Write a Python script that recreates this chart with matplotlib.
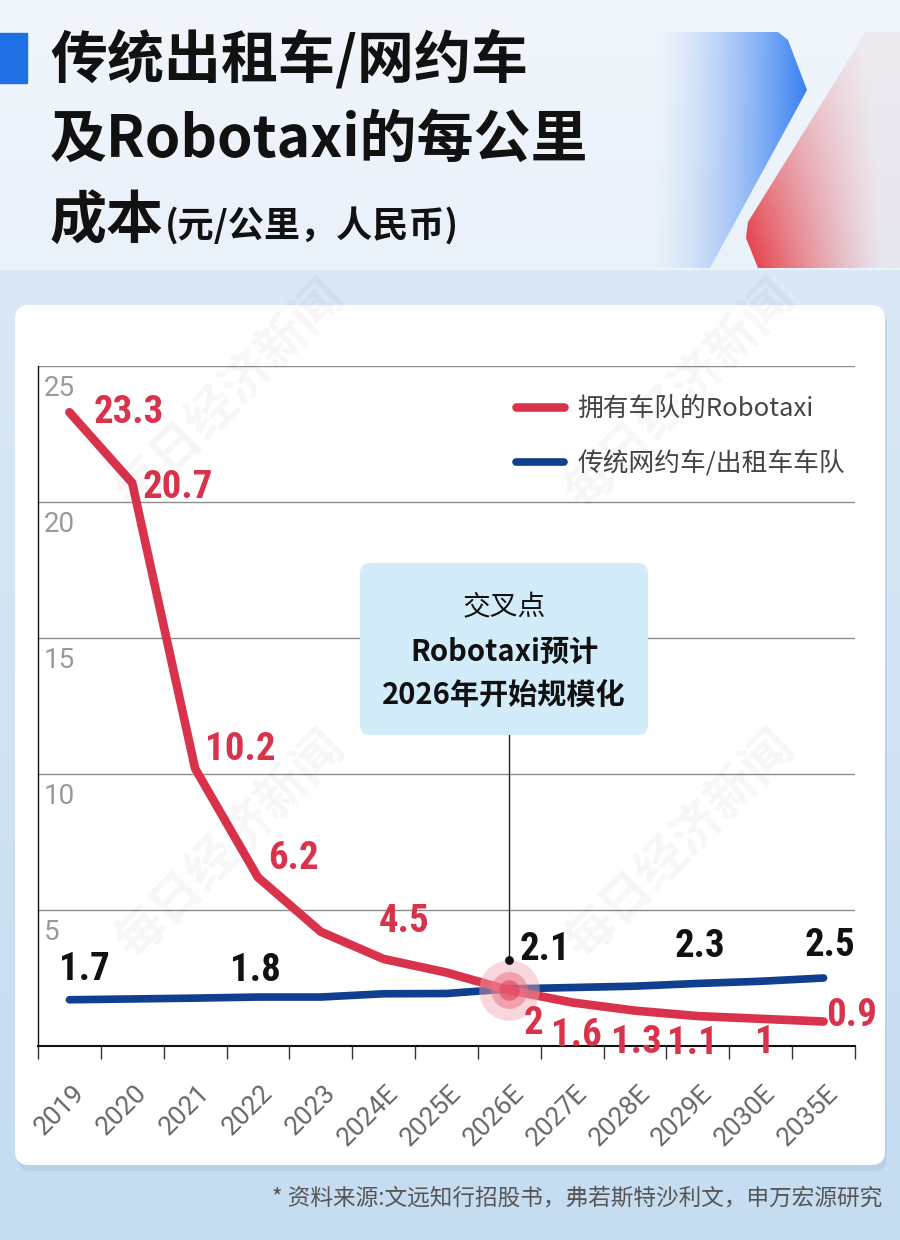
import numpy as np
import matplotlib
matplotlib.use('Agg')
import matplotlib.pyplot as plt
from matplotlib import font_manager
from matplotlib.patches import FancyBboxPatch, Polygon, Rectangle
from matplotlib.transforms import ScaledTranslation

# data
years = ['2019', '2020', '2021', '2022', '2023', '2024E', '2025E',
         '2026E', '2027E', '2028E', '2029E', '2030E', '2035E']
robotaxi = [23.3, 20.7, 10.2, 6.2, 4.2, 3.2, 2.7, 2.05, 1.6, 1.3, 1.1, 1.0, 0.9]
fleet = [1.7, 1.73, 1.76, 1.8, 1.8, 1.92, 1.93, 2.1, 2.15, 2.2, 2.3, 2.38, 2.5]
robotaxi_labels = ['23.3', '20.7', '10.2', '6.2', '', '4.5', '', '2', '1.6', '1.3', '1.1', '1', '0.9']
fleet_labels = ['1.7', '', '', '1.8', '', '', '', '2.1', '', '', '2.3', '', '2.5']
yticks = [5, 10, 15, 20, 25]

# label offsets in pixels (layout only)
robotaxi_off = [(59, 0), (46, -5), (45, 19), (35, 19), (0, 0), (20, 37), (0, 0),
                (24, -33), (4, -33), (1, -32), (-5, -27), (4, -24), (28, 6)]
fleet_off = [(15, 30), (0, 0), (0, 0), (-3, 27), (0, 0), (0, 0), (0, 0),
             (36, 39), (0, 0), (0, 0), (2, 37), (0, 0), (6, 33)]

RED = '#d9334c'
BLUE = '#0f3f8e'

plt.rcParams['font.family'] = ['Noto Sans CJK SC', 'DejaVu Sans']


def pick_number_font():
    fonts = font_manager.fontManager.ttflist
    names = {f.name for f in fonts}
    for n in ['Roboto Condensed', 'Liberation Sans Narrow', 'Open Sans Condensed',
              'Noto Sans Condensed', 'DejaVu Sans Condensed', 'Arial Narrow']:
        if n in names:
            return n, 'normal', 28
    for f in fonts:
        if f.stretch in ('condensed', 'semi-condensed', 'extra-condensed') and f.weight in (600, 700, 'bold'):
            return f.name, f.stretch, 28
    return 'Roboto', 'normal', 23


num_family, num_stretch, num_size = pick_number_font()

fig = plt.figure(figsize=(9, 12.4), dpi=100)

# background in pixel coordinates
bg = fig.add_axes([0, 0, 1, 1], zorder=-10)
bg.set_xlim(0, 900)
bg.set_ylim(1240, 0)
bg.axis('off')

top = np.array([0xf1, 0xf6, 0xfc]) / 255
head_bot = np.array([0xe9, 0xf1, 0xf9]) / 255
body_top = np.array([0xdb, 0xe8, 0xf5]) / 255
body_bot = np.array([0xc5, 0xdc, 0xf1]) / 255
rows = np.zeros((1240, 1, 3))
for y in range(1240):
    if y < 270:
        t = y / 270
        rows[y, 0] = top * (1 - t) + head_bot * t
    else:
        t = (y - 270) / 970
        rows[y, 0] = body_top * (1 - t) + body_bot * t
bg.imshow(rows, extent=(0, 900, 1240, 0), aspect='auto', zorder=0)

# decorative header shapes
blue_poly = Polygon([(650, 32), (778, 32), (788, 40), (807, 90), (710, 268), (650, 268)],
                    closed=True, facecolor='none', edgecolor='none')
bg.add_patch(blue_poly)
gx = np.linspace(0, 1, 200)
blue_img = np.zeros((1, 200, 4))
blue_img[0, :, 0] = 0x38 / 255
blue_img[0, :, 1] = 0x80 / 255
blue_img[0, :, 2] = 0xf2 / 255
blue_img[0, :, 3] = gx ** 1.5
im = bg.imshow(blue_img, extent=(650, 807, 268, 32), aspect='auto', zorder=1)
im.set_clip_path(blue_poly)

red_poly = Polygon([(866, 32), (900, 32), (900, 268), (758, 268), (746, 238), (748, 222)],
                   closed=True, facecolor='none', edgecolor='none')
bg.add_patch(red_poly)
xx, yy = np.meshgrid(np.linspace(0, 1, 160), np.linspace(0, 1, 60))
red_img = np.zeros((60, 160, 4))
red_img[..., 0] = 0xe6 / 255
red_img[..., 1] = 0x36 / 255
red_img[..., 2] = 0x40 / 255
red_img[..., 3] = np.clip((1 - xx) ** 1.3 * (0.35 + 0.65 * yy), 0.06, 1)
im2 = bg.imshow(red_img, extent=(746, 900, 268, 32), aspect='auto', zorder=1)
im2.set_clip_path(red_poly)

# title
bg.add_patch(Rectangle((0, 33), 27, 50, color='#1f6fe5', zorder=2))
bg.text(50, 60, '传统出租车/网约车', fontsize=41, fontweight='heavy', color='#111',
        va='center', ha='left', zorder=3)
bg.text(50, 140, '及Robotaxi的每公里', fontsize=41, fontweight='heavy', color='#111',
        va='center', ha='left', zorder=3)
t3 = bg.text(50, 238, '成本', fontsize=41, fontweight='heavy', color='#111',
             va='baseline', ha='left', zorder=3)
renderer = fig.canvas.get_renderer()
ext = t3.get_window_extent(renderer)
bg.text(ext.x1 + 1, 238, '(元/公里，人民币)', fontsize=26, fontweight='bold',
        color='#111', va='baseline', ha='left', zorder=3)

# card with shadow
bg.add_patch(FancyBboxPatch((17, 311), 870, 860, boxstyle='round,pad=0,rounding_size=14',
                            facecolor='#a9c4de', edgecolor='none', alpha=0.45, zorder=2))
bg.add_patch(FancyBboxPatch((15, 305), 870, 860, boxstyle='round,pad=0,rounding_size=14',
                            facecolor='white', edgecolor='none', zorder=3))

# footer
bg.text(882, 1198, '* 资料来源:文远知行招股书，弗若斯特沙利文，申万宏源研究', fontsize=16.3,
        color='#555', ha='right', va='center', zorder=3)

# main chart
ax = fig.add_axes([38 / 900, 1 - 1046 / 1240, 817 / 900, 680 / 1240])
ax.set_facecolor('none')
x = np.arange(len(years))
ax.set_xlim(-0.5, len(years) - 0.5)
ax.set_ylim(0, 25)

for v in yticks:
    ax.axhline(v, color='#8c8c8c', lw=1, zorder=1)
    ax.annotate(str(v), xy=(0, v), xycoords=('axes fraction', 'data'),
                xytext=(6, -22), textcoords='offset pixels', ha='left', va='center',
                fontsize=20, color='#9a9a9a', family=['Roboto', 'DejaVu Sans'])

red_line, = ax.plot(x, robotaxi, color=RED, lw=6.2, solid_joinstyle='round',
                    solid_capstyle='round', zorder=4, label='拥有车队的Robotaxi')
blue_line, = ax.plot(x, fleet, color=BLUE, lw=5.5, solid_joinstyle='round',
                     solid_capstyle='round', zorder=3, label='传统网约车/出租车车队')

# labels may spill below the axis but get cut near the tick ends
label_clip = Rectangle((0, 0), 900, 1059, transform=bg.transData)
for i, (lab, off) in enumerate(zip(robotaxi_labels, robotaxi_off)):
    if lab:
        t = ax.annotate(lab, xy=(x[i], robotaxi[i]), xytext=off, textcoords='offset pixels',
                        ha='center', va='center', fontsize=num_size, fontweight='bold',
                        fontstretch=num_stretch, color=RED, family=num_family, zorder=6)
        t.set_clip_path(label_clip)
for i, (lab, off) in enumerate(zip(fleet_labels, fleet_off)):
    if lab:
        ax.annotate(lab, xy=(x[i], fleet[i]), xytext=off, textcoords='offset pixels',
                    ha='center', va='center', fontsize=num_size, fontweight='bold',
                    fontstretch=num_stretch, color='#111', family=num_family, zorder=6)

# crossing marker
ci = years.index('2026E')
cy = (robotaxi[ci] + fleet[ci]) / 2
ax.scatter([ci], [cy], s=1900, color='#f3a6b3', alpha=0.45, lw=0, zorder=5)
ax.scatter([ci], [cy], s=700, color='#ec7488', alpha=0.55, lw=0, zorder=5)
ax.scatter([ci], [cy], s=220, color='#e0415b', alpha=0.6, lw=0, zorder=5)

# callout box
ax.plot([ci, ci], [3.15, 11.45], color='#222', lw=1, zorder=3)
ax.scatter([ci], [3.15], s=28, color='#111', zorder=6)
box = FancyBboxPatch((360, 563), 288, 172, boxstyle='round,pad=0,rounding_size=10',
                     facecolor='#d3ecfa', edgecolor='none', transform=bg.transData,
                     zorder=6, clip_on=False)
ax.add_patch(box)
ax.text(504, 607, '交叉点', transform=bg.transData, fontsize=20, fontweight='medium',
        color='#111', ha='center', va='center', zorder=7)
ax.text(504, 652, 'Robotaxi预计', transform=bg.transData, fontsize=21, fontweight='bold',
        color='#111', ha='center', va='center', zorder=7)
ax.text(504, 695, '2026年开始规模化', transform=bg.transData, fontsize=21, fontweight='bold',
        color='#111', ha='center', va='center', zorder=7)

# legend
leg = ax.legend(handles=[red_line, blue_line], loc='upper left',
                bbox_to_anchor=(516 / 900, 1 - 396 / 1240), bbox_transform=fig.transFigure,
                frameon=False, fontsize=18.5, handlelength=1.85, handletextpad=0.55,
                labelspacing=1.12, borderpad=0, borderaxespad=0)
for t in leg.get_texts():
    t.set_color('#444')

# axes styling
for s in ['top', 'right']:
    ax.spines[s].set_visible(False)
ax.spines['left'].set_color('#111')
ax.spines['left'].set_linewidth(1)
ax.spines['bottom'].set_color('#111')
ax.spines['bottom'].set_linewidth(1.5)
ax.set_yticks([])
ax.set_xticks(x)
ax.set_xticklabels(years, rotation=45, ha='right', va='center', rotation_mode='anchor',
                   fontsize=19, color='#666', family=['Roboto', 'DejaVu Sans'])
ax.set_xticks(np.arange(-0.5, len(years)), minor=True)
ax.tick_params(axis='x', which='major', length=0, pad=0)
ax.tick_params(axis='x', which='minor', length=9.5, width=1, color='#333')
for lab in ax.get_xticklabels():
    lab.set_transform(lab.get_transform() + ScaledTranslation(0.11, -0.43, fig.dpi_scale_trans))

# faint watermarks
for wx, wy in [(230, 395), (680, 395), (230, 845), (680, 845)]:
    fig.text(wx / 900, 1 - wy / 1240, '每日经济新闻', fontsize=36, fontweight='bold',
             color='#000', alpha=0.035, rotation=45, ha='center', va='center')

fig.savefig('out.png', dpi=100)
